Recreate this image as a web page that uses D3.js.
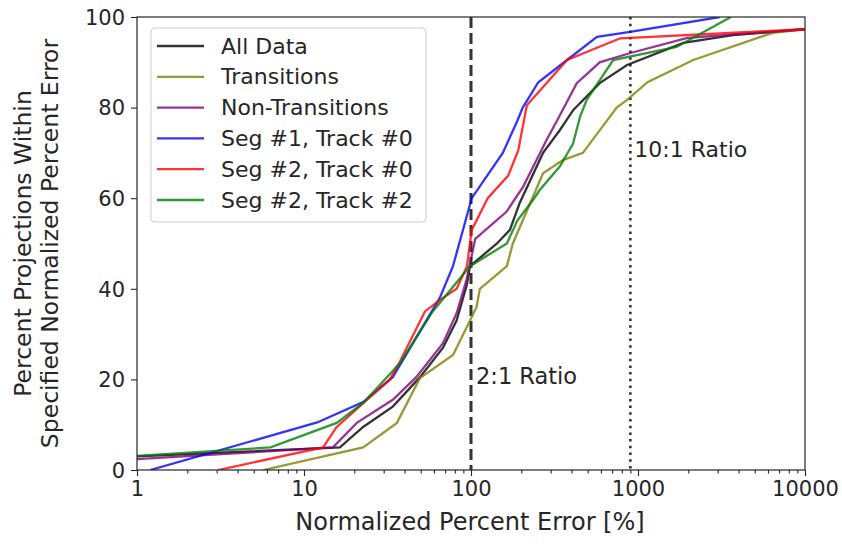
<!DOCTYPE html>
<html>
<head>
<meta charset="utf-8">
<script src="https://cdn.jsdelivr.net/npm/d3@7"></script>
<style>
body { margin: 0; background: #fff; }
text { font-family: "DejaVu Sans", sans-serif; fill: #262626; }
</style>
</head>
<body>
<script>
// error values [%] and cumulative percent
var allData = [[1,3],[16.4,5],[22.6,9.5],[34,14],[49.5,20.5],[68,27],[82,33],[94.6,41],[98.6,45],[143,50],[171,53],[196,59],[270,70],[340,75],[410,79.5],[590,85.4],[860,89.4],[1870,94.3],[3700,96],[10000,97.3]];
var transitions = [[5.7,0],[22.6,5],[36,10.4],[49.5,20.3],[78,25.4],[94.6,31.6],[108,36],[113,40],[164,45],[178,50],[270,65.5],[355,68.4],[468,70],[745,80],[860,81.7],[1140,85.6],[2140,90.5],[6400,96.5],[10000,97.3]];
var nonTransitions = [[1,2.4],[14.9,5],[20.7,10.4],[34,15.5],[47,20.5],[68,28],[82,34.6],[94,42],[106,51],[163,57],[205,62.5],[285,73],[326,77],[430,85.4],[590,90],[890,92],[1980,95.4],[10000,97.3]];
var seg1track0 = [[1.2,0],[12,10.5],[22.6,15],[34,20.5],[65,38],[78,45],[101,60],[155,70],[189,77],[204,80],[253,85.6],[376,90.5],[568,95.6],[898,96.7],[3086,100]];
var seg2track0 = [[3.06,0],[13,5],[15.7,9.5],[23.8,15.5],[32.7,20],[37.6,24],[53,35],[65,37.5],[82,40],[94.6,45],[101,53],[126,60],[167,65],[192,70.6],[216,80.5],[376,90.5],[783,95.3],[10000,97.3]];
var seg2track2 = [[1,3.1],[6.3,5],[15.7,10.4],[22.6,14.8],[37.6,23.6],[59,35],[98.6,45],[164,50],[189,55],[235,59.6],[258,61.8],[340,67],[408,72],[450,78],[493,81.7],[710,90.5],[1700,93.4],[3600,100]];

var seriesNames = ["All Data","Transitions","Non-Transitions","Seg #1, Track #0","Seg #2, Track #0","Seg #2, Track #2"];
var seriesColors = ["#000000","#808000","#800080","#0000ff","#ff0000","#008000"];
var seriesData = [allData, transitions, nonTransitions, seg1track0, seg2track0, seg2track2];

var ratioLines = [100, 900];
var ratioLabels = ["2:1 Ratio","10:1 Ratio"];
var xTicks = [1,10,100,1000,10000];
var yTicks = [0,20,40,60,80,100];

var W = 842, H = 548;
var m = {left:137, right:37, top:17, bottom:78};
var w = W - m.left - m.right, h = H - m.top - m.bottom;

var svg = d3.select("body").append("svg").attr("width",W).attr("height",H);
var g = svg.append("g").attr("transform","translate("+m.left+","+m.top+")");

var x = d3.scaleLog().domain([1,10000]).range([0,w]);
var y = d3.scaleLinear().domain([0,100]).range([h,0]);

svg.append("defs").append("clipPath").attr("id","clip").append("rect").attr("width",w).attr("height",h);
var plot = g.append("g").attr("clip-path","url(#clip)");

// ratio lines
plot.append("line").attr("x1",x(ratioLines[0])).attr("x2",x(ratioLines[0])).attr("y1",0).attr("y2",h)
  .style("stroke","#333").style("stroke-width",3).style("stroke-dasharray","11,5");
plot.append("line").attr("x1",x(ratioLines[1])).attr("x2",x(ratioLines[1])).attr("y1",0).attr("y2",h)
  .style("stroke","#333").style("stroke-width",2.6).style("stroke-dasharray","2.5,4.2");

var line = d3.line().x(function(d){return x(d[0]);}).y(function(d){return y(d[1]);});

seriesData.forEach(function(s,i){
  plot.append("path").attr("d",line(s)).style("fill","none")
    .style("stroke",seriesColors[i]).style("stroke-opacity",0.8).style("stroke-width",2.3);
});

g.append("text").attr("x",x(ratioLines[0])+5).attr("y",y(20)+5).style("font-size","22.5px").text(ratioLabels[0]);
g.append("text").attr("x",x(ratioLines[1])+4).attr("y",y(70)+4).style("font-size","22px").text(ratioLabels[1]);

// axes
var xAxis = d3.axisBottom(x).tickValues(xTicks).tickFormat(d3.format("d")).tickSize(6).tickPadding(5);
var minor = [];
for (var e=0;e<4;e++) for (var k=2;k<10;k++) minor.push(k*Math.pow(10,e));
var xMinor = d3.axisBottom(x).tickValues(minor).tickFormat("").tickSize(3.5);
var yAxis = d3.axisLeft(y).tickValues(yTicks).tickSize(6).tickPadding(6);

var gx = g.append("g").attr("transform","translate(0,"+h+")").call(xAxis);
g.append("g").attr("transform","translate(0,"+h+")").call(xMinor).select(".domain").remove();
var gy = g.append("g").call(yAxis);
g.selectAll(".tick line").style("stroke","#262626").style("stroke-width",1.1);
gx.selectAll("text").style("font-size","21px").attr("fill","#262626");
gy.selectAll("text").style("font-size","21px").attr("fill","#262626").attr("dy","0.35em");
g.selectAll(".domain").remove();

g.append("rect").attr("width",w).attr("height",h).style("fill","none").style("stroke","#262626").style("stroke-width",1.2);

// axis labels
g.append("text").attr("x",w/2-1).attr("y",h+60).attr("text-anchor","middle").style("font-size","24px").text("Normalized Percent Error [%]");
var yl = g.append("text").attr("transform","translate(-114,"+(h/2)+") rotate(-90)").attr("text-anchor","middle").style("font-size","23.5px");
yl.append("tspan").attr("x",0).attr("dy","0.35em").text("Percent Projections Within");
yl.append("tspan").attr("x",0).attr("dy","1.15em").text("Specified Normalized Percent Error");

// legend
var leg = g.append("g").attr("transform","translate(14,11)");
leg.append("rect").attr("width",275).attr("height",194).attr("rx",4)
  .style("fill","#fff").style("fill-opacity",0.8).style("stroke","#ccc").style("stroke-width",1);
seriesNames.forEach(function(n,i){
  var yy = 18 + i*30.8;
  leg.append("line").attr("x1",6).attr("x2",53).attr("y1",yy).attr("y2",yy)
    .style("stroke",seriesColors[i]).style("stroke-opacity",0.8).style("stroke-width",2.3);
  leg.append("text").attr("x",70).attr("y",yy+7.5).style("font-size","22px").text(n);
});
</script>
</body>
</html>
